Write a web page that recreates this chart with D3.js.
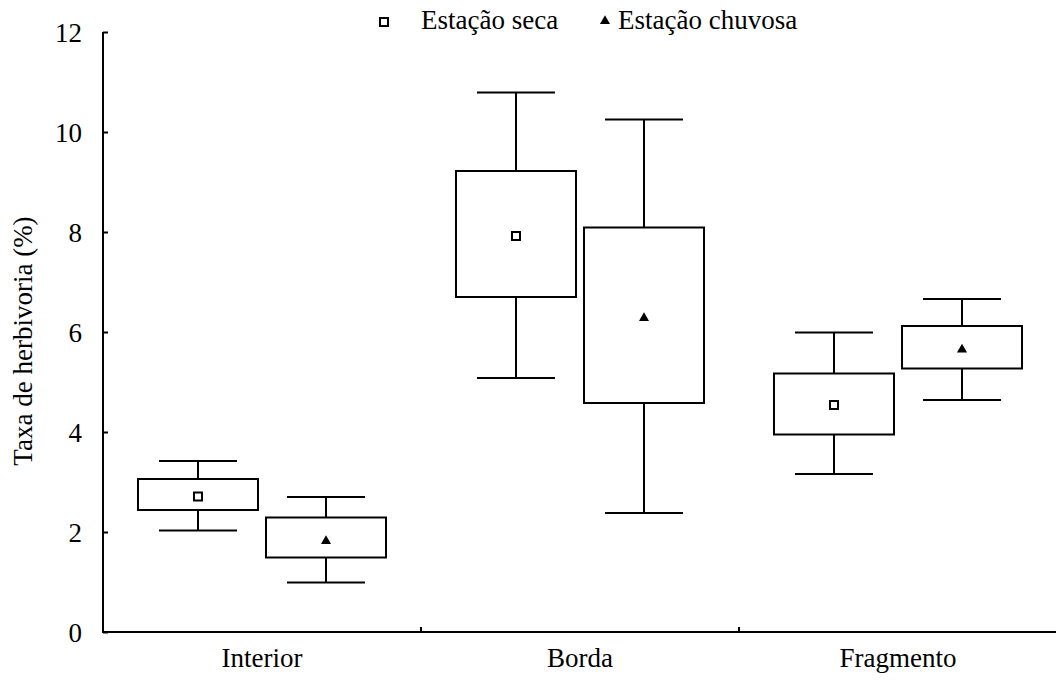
<!DOCTYPE html>
<html>
<head>
<meta charset="utf-8">
<script src="https://cdn.jsdelivr.net/npm/d3@7"></script>
<style>
  html, body { margin: 0; padding: 0; background: #fff; }
  svg { display: block; }
</style>
</head>
<body>
<svg id="chart" width="1056" height="681"></svg>
<script>
// ---- data ----
const categories = ["Interior", "Borda", "Fragmento"];
const seasons = ["Estação seca", "Estação chuvosa"];
// per season, per category: [min, q1, mean, q3, max]
const secaStats = [
  [2.03, 2.44, 2.71, 3.06, 3.42],
  [5.08, 6.70, 7.92, 9.22, 10.79],
  [3.16, 3.95, 4.54, 5.17, 5.99]
];
const chuvosaStats = [
  [0.99, 1.49, 1.82, 2.29, 2.70],
  [2.38, 4.58, 6.28, 8.09, 10.25],
  [4.64, 5.27, 5.65, 6.12, 6.66]
];
const yTicks = [0, 2, 4, 6, 8, 10, 12];
const yTitle = "Taxa de herbivoria (%)";

// ---- layout ----
const svg = d3.select("#chart");
const mLeft = 103, mRight = 1057, mTop = 32, mBottom = 632;
const FONT = '"Liberation Serif"';
const fontSize = "27px";

const x = d3.scaleBand().domain(categories).range([mLeft, mRight]).padding(0);
const xs = d3.scalePoint().domain(seasons).range([0, x.bandwidth()]).padding(0.742);
const y = d3.scaleLinear().domain([0, 12]).range([mBottom, mTop]);

const boxW = 120, capW = 78;

function styleText(sel) {
  return sel.style("font-family", FONT).style("font-size", fontSize).attr("fill", "#000");
}

// y axis
const yAxis = d3.axisLeft(y).tickValues(yTicks).tickSize(-5).tickPadding(21).tickFormat(d3.format("d"));
const gy = svg.append("g").attr("transform", `translate(${mLeft},0)`).call(yAxis);
gy.attr("font-family", null).attr("font-size", null);
gy.select(".domain").attr("d", `M0,${mTop}V${mBottom}`).attr("stroke", "#000").attr("stroke-width", 2);
gy.selectAll(".tick line").attr("stroke", "#000").attr("stroke-width", 2);
styleText(gy.selectAll(".tick text")).attr("dy", "0.34em");

// x axis
const gx = svg.append("g").attr("transform", `translate(0,${mBottom})`);
gx.append("line").attr("x1", mLeft - 1).attr("x2", mRight).attr("y1", 0).attr("y2", 0)
  .attr("stroke", "#000").attr("stroke-width", 2);
gx.selectAll("line.sep").data(categories.slice(1)).enter().append("line")
  .attr("class", "sep")
  .attr("x1", d => x(d)).attr("x2", d => x(d))
  .attr("y1", 0).attr("y2", -5).attr("stroke", "#000").attr("stroke-width", 2);
styleText(gx.selectAll("text.cat").data(categories).enter().append("text")
  .attr("class", "cat")
  .attr("x", d => x(d) + x.bandwidth() / 2)
  .attr("y", 35)
  .attr("text-anchor", "middle"))
  .text(d => d);

// y title
styleText(svg.append("text")
  .attr("transform", `translate(32,341) rotate(-90)`)
  .attr("text-anchor", "middle"))
  .text(yTitle);

// boxes
const groups = [
  { season: seasons[0], stats: secaStats, marker: "square" },
  { season: seasons[1], stats: chuvosaStats, marker: "triangle" }
];

const plot = svg.append("g");
groups.forEach(g => {
  categories.forEach((c, i) => {
    const [mn, q1, mean, q3, mx] = g.stats[i];
    const cx = x(c) + xs(g.season);
    const gg = plot.append("g").attr("stroke", "#000").attr("stroke-width", 2).attr("fill", "none");
    gg.append("line").attr("x1", cx).attr("x2", cx).attr("y1", y(mx)).attr("y2", y(q3));
    gg.append("line").attr("x1", cx).attr("x2", cx).attr("y1", y(q1)).attr("y2", y(mn));
    gg.append("line").attr("x1", cx - capW / 2).attr("x2", cx + capW / 2).attr("y1", y(mx)).attr("y2", y(mx));
    gg.append("line").attr("x1", cx - capW / 2).attr("x2", cx + capW / 2).attr("y1", y(mn)).attr("y2", y(mn));
    gg.append("rect").attr("x", cx - boxW / 2).attr("y", y(q3)).attr("width", boxW).attr("height", y(q1) - y(q3))
      .attr("fill", "#fff");
    if (g.marker === "square") {
      gg.append("rect").attr("x", cx - 4).attr("y", y(mean) - 4).attr("width", 8).attr("height", 8).attr("fill", "#fff");
    } else {
      gg.append("path").attr("d", d3.symbol(d3.symbolTriangle, 44)())
        .attr("transform", `translate(${cx},${y(mean)})`).attr("fill", "#000").attr("stroke", "none");
    }
  });
});

// legend
const leg = svg.append("g");
leg.append("rect").attr("x", 380).attr("y", 18).attr("width", 8).attr("height", 8)
  .attr("fill", "#fff").attr("stroke", "#000").attr("stroke-width", 2);
styleText(leg.append("text").attr("x", 421).attr("y", 29)).text(seasons[0]);
leg.append("path").attr("d", d3.symbol(d3.symbolTriangle, 44)()).attr("transform", "translate(605,21)").attr("fill", "#000");
styleText(leg.append("text").attr("x", 618).attr("y", 29)).text(seasons[1]);
</script>
</body>
</html>
